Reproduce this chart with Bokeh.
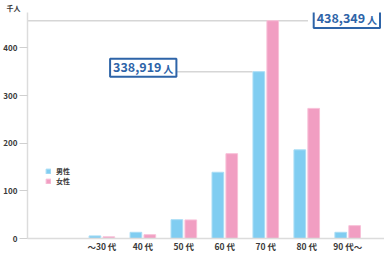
from bokeh.plotting import figure
from bokeh.models import (Range1d, FixedTicker, Legend, LegendItem, Label,
                          ColumnDataSource)
from bokeh.transform import dodge
from bokeh.embed import file_html
from bokeh.resources import INLINE

# ---- data ----
categories = ["～30 代", "40 代", "50 代", "60 代", "70 代", "80 代", "90 代～"]
male = [5.5, 13, 39.5, 139, 350, 186, 13]
female = [3.5, 8, 39, 178, 457, 273, 27]
y_ticks = [0, 100, 200, 300, 400]
male_total = "338,919"
female_total = "438,349"
unit = "人"
y_unit = "千人"
series_names = ["男性", "女性"]

# ---- style ----
BLUE = "#80cdf1"
BLUE_EDGE = "#a9ddf5"
PINK = "#f19ec2"
PINK_EDGE = "#f8c0d8"
TXT = "#3a3a3a"
BOXC = "#2e64a8"
FONT = "Noto Sans CJK JP"

xs = list(range(len(categories)))
src = ColumnDataSource(dict(x=xs, male=male, female=female))

p = figure(width=384, height=254, output_backend="svg", toolbar_location=None,
           x_range=Range1d(-1.816, 6.898), y_range=Range1d(0, 474.2),
           min_border_left=25, min_border_right=0, min_border_top=10,
           min_border_bottom=16)
p.outline_line_color = None
p.xgrid.visible = False
p.ygrid.visible = False
p.background_fill_color = "white"

# unit title
p.title.text = y_unit
p.title.align = "left"
p.title.offset = -21
p.title.standoff = 0
p.title.text_font = FONT
p.title.text_font_style = "bold"
p.title.text_font_size = "7px"
p.title.text_color = TXT

# leader lines
p.segment(x0=[-1.816], y0=[female[4]], x1=[5.03], y1=[female[4]],
          line_color="#d6d6d6", line_width=1.5)
p.segment(x0=[1.8], y0=[male[4]], x1=[4 - 0.17 - 0.15], y1=[male[4]],
          line_color="#d6d6d6", line_width=1.5)

off = 0.17
bw = 0.285
rm = p.vbar(x=dodge("x", -off), top="male", bottom=0, width=bw, source=src,
            fill_color=BLUE, line_color=BLUE_EDGE, line_width=1)
rf = p.vbar(x=dodge("x", off), top="female", bottom=0, width=bw, source=src,
            fill_color=PINK, line_color=PINK_EDGE, line_width=1)

# axes
xa = p.xaxis[0]
xa.ticker = FixedTicker(ticks=xs)
xa.major_label_overrides = {i: c for i, c in zip(xs, categories)}
xa.axis_line_color = "#dcdcdc"
xa.axis_line_width = 1.5
xa.major_tick_line_color = None
xa.minor_tick_line_color = None
xa.major_tick_out = 0
xa.minor_tick_out = 0
xa.major_label_text_font = FONT
xa.major_label_text_font_style = "bold"
xa.major_label_text_font_size = "8.5px"
xa.major_label_text_color = TXT
xa.major_label_standoff = 1

ya = p.yaxis[0]
ya.ticker = FixedTicker(ticks=y_ticks)
ya.axis_line_color = "#dcdcdc"
ya.axis_line_width = 1.5
ya.major_tick_line_color = "#d0d0d0"
ya.major_tick_in = 0
ya.major_tick_out = 8
ya.minor_tick_line_color = None
ya.minor_tick_out = 0
ya.major_label_text_font = FONT
ya.major_label_text_font_style = "bold"
ya.major_label_text_font_size = "8px"
ya.major_label_text_color = TXT
ya.major_label_standoff = 2

# callout boxes
def callout(x, y, num):
    p.add_layout(Label(x=x, y=y, text=num, text_font=FONT,
                       text_font_style="bold", text_font_size="12.5px",
                       text_color=BOXC, text_baseline="middle",
                       text_align="left",
                       border_line_color=BOXC, border_line_width=2,
                       background_fill_color="white",
                       padding=(3, 15, 3, 5)))

callout(0.20, 358.5, male_total)
callout(5.17, 460.5, female_total)
p.add_layout(Label(x=1.50, y=357.5, text=unit, text_font=FONT,
                   text_font_style="bold", text_font_size="10px",
                   text_color=BOXC, text_baseline="middle", text_align="left"))
p.add_layout(Label(x=6.47, y=459.5, text=unit, text_font=FONT,
                   text_font_style="bold", text_font_size="10px",
                   text_color=BOXC, text_baseline="middle", text_align="left"))

legend = Legend(items=[LegendItem(label=series_names[0], renderers=[rm]),
                       LegendItem(label=series_names[1], renderers=[rf])],
                location=(18, 52), orientation="vertical",
                glyph_width=6, glyph_height=6, label_height=10,
                label_width=10, spacing=0, padding=0, margin=0,
                label_standoff=5, border_line_color=None,
                background_fill_alpha=0,
                label_text_font=FONT, label_text_font_style="bold",
                label_text_font_size="7px", label_text_color=TXT)
p.add_layout(legend)

open("out.html", "w").write(file_html(p, INLINE))
